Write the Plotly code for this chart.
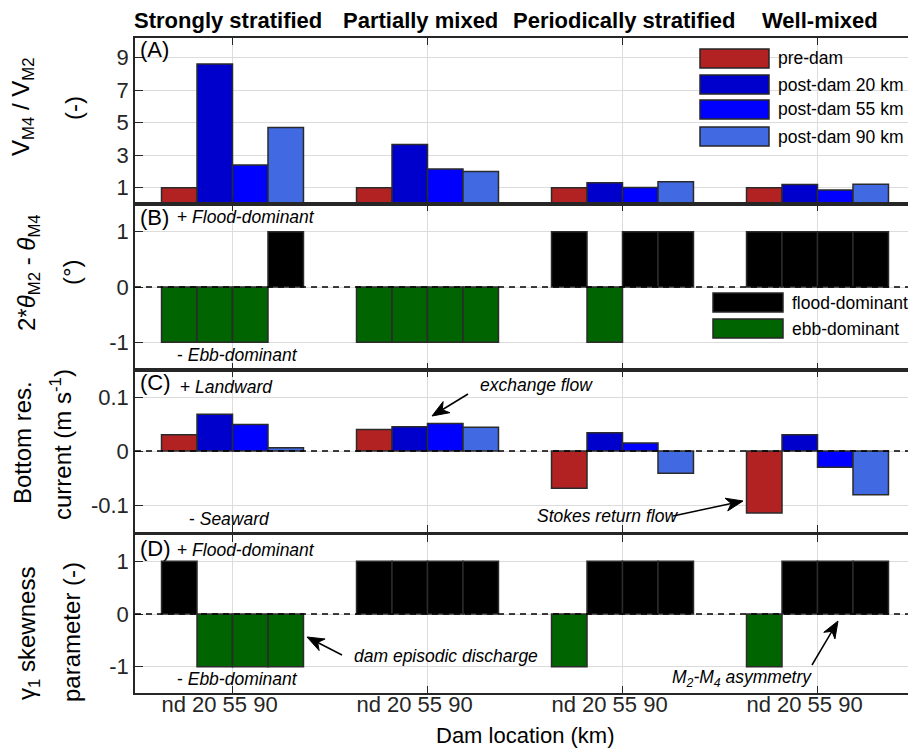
import math
import plotly.graph_objects as go
from plotly.subplots import make_subplots

# ---- data ------------------------------------------------------------------
regimes = ["Strongly stratified", "Partially mixed", "Periodically stratified", "Well-mixed"]
dam_tick = "nd 20 55 90"
series_names = ["pre-dam", "post-dam 20 km", "post-dam 55 km", "post-dam 90 km"]
series_colors = ["#B22222", "#0000CD", "#0000FF", "#4169E1"]
sign_names = ["flood-dominant", "ebb-dominant"]
sign_colors = ["#000000", "#006400"]

# (A) V_M4 / V_M2 amplitude ratio, per regime
ratio_pre = [1.0, 1.0, 1.0, 1.0]
ratio_20 = [8.6, 3.65, 1.3, 1.2]
ratio_55 = [2.4, 2.15, 1.02, 0.86]
ratio_90 = [4.7, 2.0, 1.37, 1.22]

# (B) sign of 2*theta_M2 - theta_M4 (+1 flood, -1 ebb)
phase_pre = [-1, -1, 1, 1]
phase_20 = [-1, -1, -1, 1]
phase_55 = [-1, -1, 1, 1]
phase_90 = [1, -1, 1, 1]

# (C) bottom residual current (m/s)
resid_pre = [0.030, 0.040, -0.069, -0.115]
resid_20 = [0.068, 0.045, 0.034, 0.030]
resid_55 = [0.049, 0.051, 0.015, -0.030]
resid_90 = [0.006, 0.044, -0.041, -0.081]

# (D) sign of gamma_1 skewness (+1 flood, -1 ebb)
skew_pre = [1, 1, -1, -1]
skew_20 = [-1, 1, 1, 1]
skew_55 = [-1, 1, 1, 1]
skew_90 = [-1, 1, 1, 1]

panel_A = [ratio_pre, ratio_20, ratio_55, ratio_90]
panel_B = [phase_pre, phase_20, phase_55, phase_90]
panel_C = [resid_pre, resid_20, resid_55, resid_90]
panel_D = [skew_pre, skew_20, skew_55, skew_90]

# ---- geometry (figure pixels) ---------------------------------------------
W, H = 909, 749
L, R, T, B = 135, 1, 38, 56
PW, PH = W - L - R, H - T - B
FONT = "Liberation Sans, Arial, sans-serif"
INK = "#262626"
GRID = "#dcdcdc"
EDGE = "#2b2b2b"


def xp(px):
    return (px - L) / PW


def yp(py):
    return (H - B - py) / PH


x = [1, 2, 3, 4]

fig = make_subplots(rows=4, cols=1, shared_xaxes=True, vertical_spacing=0)


def bar(vals, colors, name=None):
    return go.Bar(x=x, y=vals, name=name, marker_color=colors, textposition="none",
                  hoverinfo="x+y", marker_line=dict(color=EDGE, width=1.5), showlegend=False)


def sign_fill(vals):
    return [sign_colors[0] if v > 0 else sign_colors[1] for v in vals]


for name, color, vals in zip(series_names, series_colors, panel_A):
    fig.add_trace(bar(vals, color, name), row=1, col=1)
for vals in panel_B:
    fig.add_trace(bar(vals, sign_fill(vals)), row=2, col=1)
for name, color, vals in zip(series_names, series_colors, panel_C):
    fig.add_trace(bar(vals, color, name), row=3, col=1)
for vals in panel_D:
    fig.add_trace(bar(vals, sign_fill(vals)), row=4, col=1)

# panel vertical extents in pixels
panels = [(38, 204), (204, 370), (370, 532), (535, 693)]
yranges = [[0, 10.2], [-1.5, 1.5], [-0.15, 0.15], [-1.5, 1.5]]
yticks = [[1, 3, 5, 7, 9], [-1, 0, 1], [-0.1, 0, 0.1], [-1, 0, 1]]
yticktext = [["1", "3", "5", "7", "9"], ["-1", "0", "1"], ["-0.1", "0", "0.1"], ["-1", "0", "1"]]

for i, ((top, bot), rng, tv, tt) in enumerate(zip(panels, yranges, yticks, yticktext), start=1):
    fig.update_yaxes(row=i, col=1, domain=[yp(bot), yp(top)], range=rng,
                     tickvals=tv, ticktext=tt, showgrid=True, gridcolor=GRID, gridwidth=1,
                     zeroline=False, showline=True, linecolor=INK, linewidth=1.5,
                     ticks="inside", ticklen=8, tickcolor=INK, tickwidth=1,
                     tickfont=dict(size=22, color=INK, family=FONT))
    fig.update_xaxes(row=i, col=1, range=[0.5, 0.5 + PW / 195.0],
                     tickvals=x, showticklabels=False,
                     showgrid=True, gridcolor=GRID, gridwidth=1,
                     zeroline=False, showline=True, mirror="ticks", linecolor=INK, linewidth=1.5,
                     ticks="inside", ticklen=7, tickcolor=INK, tickwidth=1)
fig.update_xaxes(row=4, col=1, showticklabels=True, ticktext=[dam_tick] * 4,
                 ticklabelshift=-13, ticklabelstandoff=-9,
                 tickfont=dict(size=22, color=INK, family=FONT))

# dashed zero lines in panels B-D
for yr in ["y2", "y3", "y4"]:
    fig.add_shape(type="line", xref="paper", x0=0, x1=1, yref=yr, y0=0, y1=0,
                  line=dict(color="#000000", width=1.5, dash="6px,5px"), layer="above")

ann = []
shapes = []


def text(px, py, s, size=17.5, anchor="left", angle=0):
    ann.append(dict(x=xp(px), y=yp(py), xref="paper", yref="paper", text=s,
                    showarrow=False, xanchor=anchor, yanchor="middle", textangle=angle,
                    font=dict(size=size, color="#000000", family=FONT)))


def arrow(tip, tail, head=17, half=6.5, notch=5):
    """Callout arrow: shaft plus a notched, filled head (pixel coordinates)."""
    dx, dy = tip[0] - tail[0], tip[1] - tail[1]
    n = math.hypot(dx, dy)
    ux, uy = dx / n, dy / n
    px_, py_ = -uy, ux
    bx, by = tip[0] - ux * head, tip[1] - uy * head
    nx, ny = tip[0] - ux * (head - notch), tip[1] - uy * (head - notch)
    shapes.append(dict(type="line", xref="paper", yref="paper",
                       x0=xp(tail[0]), y0=yp(tail[1]), x1=xp(nx), y1=yp(ny),
                       line=dict(color="#000000", width=1.5)))
    pts = [tip, (bx + px_ * half, by + py_ * half), (nx, ny), (bx - px_ * half, by - py_ * half)]
    path = "M " + " L ".join("%.5f,%.5f" % (xp(a), yp(b)) for a, b in pts) + " Z"
    shapes.append(dict(type="path", xref="paper", yref="paper", path=path,
                       fillcolor="#000000", line=dict(color="#000000", width=1)))


# regime titles
for cx, label in zip([227.5, 420, 624.5, 820], regimes):
    text(cx, 21, "<b>%s</b>" % label, size=22, anchor="center")

# panel tags and sign hints
text(138, 49.5, "(A)", size=22)
text(138, 217.5, "(B)", size=22)
text(138, 382, "(C)", size=22)
text(138, 548, "(D)", size=22)
text(175, 216.5, "+ <i>Flood-dominant</i>")
text(175, 354.5, "- <i>Ebb-dominant</i>")
text(178, 386.5, "+ <i>Landward</i>")
text(187, 518.5, "- <i>Seaward</i>")
text(175, 549.5, "+ <i>Flood-dominant</i>")
text(175, 678.5, "- <i>Ebb-dominant</i>")

# process callouts
text(478, 385, "<i>exchange flow</i>")
arrow((432, 416), (468, 394))
text(535, 516, "<i>Stokes return flow</i>")
arrow((743, 501), (673, 516))
text(352, 656, "<i>dam episodic discharge</i>")
arrow((307, 637), (342, 655))
text(670, 678, "<i>M<sub>2</sub>-M<sub>4</sub> asymmetry</i>")
arrow((838, 621), (812, 665))

# y-axis titles (two rotated lines each)
text(22, 107, "V<sub>M4</sub> / V<sub>M2</sub>", size=24, anchor="center", angle=-90)
text(74, 108, "(-)", size=24, anchor="center", angle=-90)
text(28, 272, "2*<i>θ</i><sub>M2</sub> - <i>θ</i><sub>M4</sub>", size=24, anchor="center", angle=-90)
text(71, 272, "(°)", size=24, anchor="center", angle=-90)
text(22, 443, "Bottom res.", size=24, anchor="center", angle=-90)
text(61, 445, "current (m s<sup>-1</sup>)", size=24, anchor="center", angle=-90)
text(28, 633, "γ<sub>1</sub> skewness", size=24, anchor="center", angle=-90)
text(71, 632, "parameter (-)", size=24, anchor="center", angle=-90)

# x-axis title
text(525, 735, "Dam location (km)", size=22, anchor="center")

# legend for panel A
legA_rows = [58.5, 84.5, 109.5, 136.5]
for name, color, cy in zip(series_names, series_colors, legA_rows):
    shapes.append(dict(type="rect", xref="paper", yref="paper",
                       x0=xp(700), x1=xp(769), y0=yp(cy + 9.5), y1=yp(cy - 9.5),
                       fillcolor=color, line=dict(color=INK, width=1.5)))
    text(776, cy, name)

# legend for panel B
legB_rows = [302.5, 328.5]
for name, color, cy in zip(sign_names, sign_colors, legB_rows):
    shapes.append(dict(type="rect", xref="paper", yref="paper",
                       x0=xp(713), x1=xp(783), y0=yp(cy + 9.5), y1=yp(cy - 9.5),
                       fillcolor=color, line=dict(color=INK, width=1.5)))
    text(790, cy, name)

for s in shapes:
    fig.add_shape(**s)

fig.update_layout(
    width=W, height=H,
    margin=dict(l=L, r=R, t=T, b=B),
    paper_bgcolor="white", plot_bgcolor="white",
    barmode="group", bargap=0.272, bargroupgap=0,
    showlegend=False,
    font=dict(family=FONT, color=INK),
    annotations=ann,
)

fig.write_html("out.html")
